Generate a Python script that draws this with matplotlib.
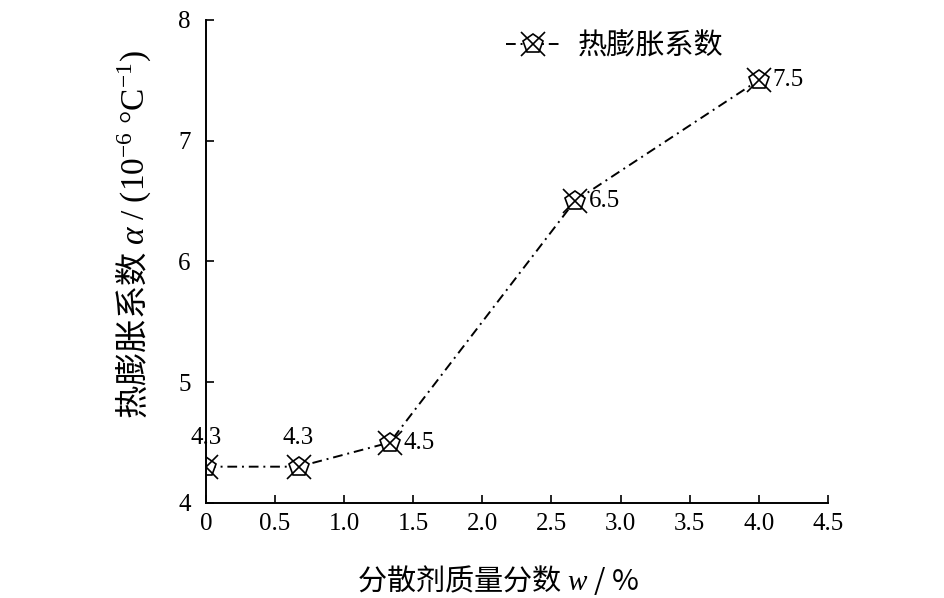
import numpy as np
import matplotlib
matplotlib.use("Agg")
import matplotlib.pyplot as plt
from matplotlib.legend_handler import HandlerTuple

plt.rcParams['font.family'] = ['Liberation Serif', 'Noto Sans CJK SC', 'DejaVu Sans']
plt.rcParams['mathtext.fontset'] = 'custom'
plt.rcParams['mathtext.rm'] = 'Liberation Serif'
plt.rcParams['mathtext.it'] = 'Liberation Serif:italic'

# datos
w = [0, 0.67, 1.33, 2.67, 4.0]
alpha = [4.3, 4.3, 4.5, 6.5, 7.5]
etiquetas = ['4.3', '4.3', '4.5', '6.5', '7.5']
xticks = [0, 0.5, 1.0, 1.5, 2.0, 2.5, 3.0, 3.5, 4.0, 4.5]
xticklabels = ['0', '0.5', '1.0', '1.5', '2.0', '2.5', '3.0', '3.5', '4.0', '4.5']
yticks = [4, 5, 6, 7, 8]

fig = plt.figure(figsize=(9.45, 5.98), dpi=100)
ax = fig.add_axes([0.218, 0.159, 0.658, 0.808])

linea, = ax.plot(w, alpha, color='black', lw=1.4, dashes=(5, 2.5, 1, 2.5),
                 marker='p', ms=15, mfc='white', mec='black', mew=1.2)
cruz, = ax.plot(w, alpha, ls='none', marker='x', ms=17, mec='black', mew=1.2)

# etiquetas de los puntos
offs = [(0, 13), (0, 13), (10, 0), (10, 0), (10, 0)]
for xi, yi, t, (dx, dy) in zip(w, alpha, etiquetas, offs):
  ha = 'center' if dx == 0 else 'left'
  va = 'bottom' if dy > 0 else 'center'
  ax.annotate(t, (xi, yi), xytext=(dx, dy), textcoords='offset points',
              ha=ha, va=va, fontsize=18)

ax.set_xlim(0, 4.5)
ax.set_ylim(4, 8)
ax.set_xticks(xticks)
ax.set_xticklabels(xticklabels)
ax.set_yticks(yticks)
ax.tick_params(direction='in', length=6, width=1.2, labelsize=18, pad=7)
ax.tick_params(axis='y', pad=11)
for s in ['top', 'right']:
  ax.spines[s].set_visible(False)
for s in ['left', 'bottom']:
  ax.spines[s].set_linewidth(1.4)

ax.set_xlabel('分散剂质量分数 $\\mathit{w}$ / %', fontsize=21,
              family=['Noto Sans CJK SC', 'DejaVu Sans'])
ax.xaxis.set_label_coords(0.47, -0.125)
ax.set_ylabel('热膨胀系数 $\\alpha\\ /\\ \\mathrm{(10^{-6}\\ °C^{-1})}$', fontsize=24,
              family=['Noto Sans CJK SC', 'DejaVu Sans'])
ax.yaxis.set_label_coords(-0.085, 0.555)

leg = ax.legend([(linea, cruz)], ['热膨胀系数'], handler_map={tuple: HandlerTuple(ndivide=1)},
                loc='upper left', bbox_to_anchor=(0.44, 1.03), frameon=False,
                prop={'family': ['Noto Sans CJK SC'], 'size': 21},
                handlelength=1.85, handletextpad=0.6)

plt.savefig('out.png', dpi=100)
